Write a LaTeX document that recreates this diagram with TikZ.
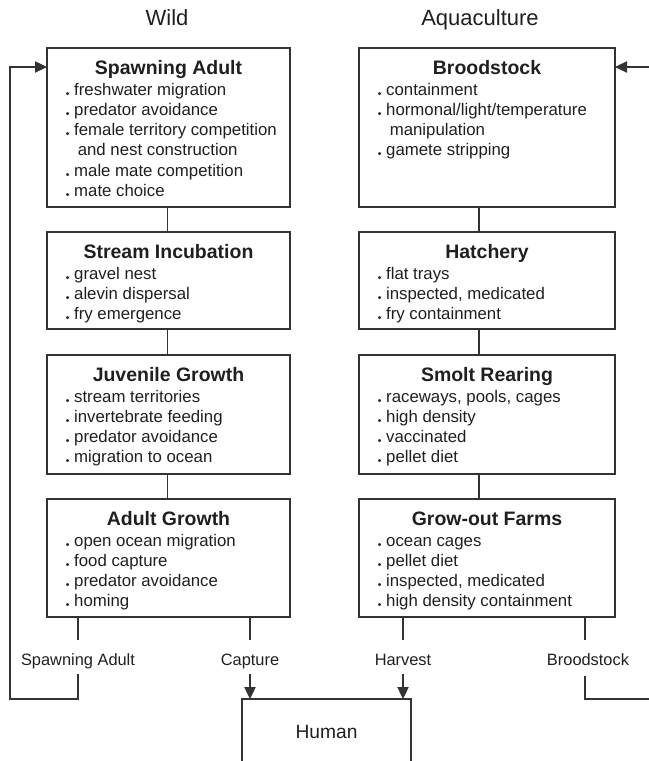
\documentclass[tikz,border=0pt]{standalone}
\usepackage{fontspec}
\setmainfont{Liberation Sans}
\usepackage{graphicx}
\usetikzlibrary{arrows.meta,calc}
\newcommand\bu{\makebox[6.3pt][l]{\raisebox{-0.12em}{\scalebox{0.62}{•}}}}
\newcommand\cont{\hspace*{9pt}}
\newcommand\fst{\rule{0pt}{10pt}}
\begin{document}
\begin{tikzpicture}[x=0.75pt,y=-0.75pt,
  box/.style={draw=black!80, line width=0.8pt, inner sep=0pt, outer sep=0pt},
  lbox/.style={box, minimum width=182.25pt},
  rbox/.style={box, minimum width=192pt},
  ttl/.style={font=\fontsize{14.6}{17}\selectfont\bfseries, text=black!88, anchor=base, inner sep=0pt},
  itm/.style={font=\fontsize{12.6}{15.15}\selectfont, text=black!88, anchor=north west, align=left, inner sep=0pt},
  lbl/.style={font=\fontsize{12.3}{14}\selectfont, text=black!88, anchor=base, inner sep=0pt},
  head/.style={font=\fontsize{16.5}{20}\selectfont, text=black!88, anchor=base, inner sep=0pt},
  conn/.style={draw=black!80, line width=0.8pt},
  arr/.style={conn, -{Triangle[length=9pt,width=8.5pt]}}]
\useasboundingbox (0,0) rectangle (649,761);
\begin{scope}
\clip (0,0) rectangle (649,761);
% column heads
\node[head] (hwild) at (167,25) {Wild};
\node[head] (haqua) at (480,25) {Aquaculture};
% left boxes
\node[lbox, minimum height=119.25pt] (sa) at (168.5,127.5) {};
\node[lbox, minimum height=72.75pt] (si) at (168.5,280.5) {};
\node[lbox, minimum height=89.25pt] (jg) at (168.5,414.5) {};
\node[lbox, minimum height=88.5pt] (ag) at (168.5,558) {};
% right boxes
\node[rbox, minimum height=119.25pt] (bs) at (487,127.5) {};
\node[rbox, minimum height=72.75pt] (ha) at (487,280.5) {};
\node[rbox, minimum height=89.25pt] (sr) at (487,414.5) {};
\node[rbox, minimum height=88.5pt] (gf) at (487,558) {};
% titles
\node[ttl] (sa-t) at ($(sa.north)+(0,26)$) {Spawning Adult};
\node[ttl] (si-t) at ($(si.north)+(0,26)$) {Stream Incubation};
\node[ttl] (jg-t) at ($(jg.north)+(0,26)$) {Juvenile Growth};
\node[ttl] (ag-t) at ($(ag.north)+(0,26)$) {Adult Growth};
\node[ttl] (bs-t) at ($(bs.north)+(0,26)$) {Broodstock};
\node[ttl] (ha-t) at ($(ha.north)+(0,26)$) {Hatchery};
\node[ttl] (sr-t) at ($(sr.north)+(0,26)$) {Smolt Rearing};
\node[ttl] (gf-t) at ($(gf.north)+(0,26)$) {Grow-out Farms};
% items
\node[itm] (sa-i) at ($(sa.north west)+(18.5,33.67)$) {\fst\bu freshwater migration\\\bu predator avoidance\\\bu female territory competition\\\cont and nest construction\\\bu male mate competition\\\bu mate choice};
\node[itm] (si-i) at ($(si.north west)+(18.5,33.67)$) {\fst\bu gravel nest\\\bu alevin dispersal\\\bu fry emergence};
\node[itm] (jg-i) at ($(jg.north west)+(18.5,33.67)$) {\fst\bu stream territories\\\bu invertebrate feeding\\\bu predator avoidance\\\bu migration to ocean};
\node[itm] (ag-i) at ($(ag.north west)+(18.5,33.67)$) {\fst\bu open ocean migration\\\bu food capture\\\bu predator avoidance\\\bu homing};
\node[itm] (bs-i) at ($(bs.north west)+(18.5,33.67)$) {\fst\bu containment\\\bu hormonal/light/temperature\\\cont manipulation\\\bu gamete stripping};
\node[itm] (ha-i) at ($(ha.north west)+(18.5,33.67)$) {\fst\bu flat trays\\\bu inspected, medicated\\\bu fry containment};
\node[itm] (sr-i) at ($(sr.north west)+(18.5,33.67)$) {\fst\bu raceways, pools, cages\\\bu high density\\\bu vaccinated\\\bu pellet diet};
\node[itm] (gf-i) at ($(gf.north west)+(18.5,33.67)$) {\fst\bu ocean cages\\\bu pellet diet\\\bu inspected, medicated\\\bu high density containment};
% vertical links
\draw[conn] ([xshift=-1pt]sa.south) -- ([xshift=-1pt]si.north);
\draw[conn] ([xshift=-1pt]si.south) -- ([xshift=-1pt]jg.north);
\draw[conn] ([xshift=-1pt]jg.south) -- ([xshift=-1pt]ag.north);
\draw[conn] ([xshift=-6pt]bs.south) -- ([xshift=-6pt]ha.north);
\draw[conn] ([xshift=-6pt]ha.south) -- ([xshift=-6pt]sr.north);
\draw[conn] ([xshift=-6pt]sr.south) -- ([xshift=-6pt]gf.north);
% human
\node[box, minimum width=126.75pt, minimum height=75pt, anchor=north] (hu) at (326.5,699) {};
\node[lbl, font=\fontsize{14.4}{17}\selectfont] (hu-t) at (326.5,738) {Human};
% bottom labels
\node[lbl] (lsa) at (78,665) {Spawning Adult};
\node[lbl] (lcap) at (250,665) {Capture};
\node[lbl] (lhar) at (403,665) {Harvest};
\node[lbl] (lbro) at (588,665) {Broodstock};
\coordinate (loopL) at (10,699);
\coordinate (loopR) at (653,699);
% wild outputs
\draw[conn] (ag.south -| lsa) -- ($(lsa.base)+(0,-25)$);
\draw[arr] ($(lsa.base)+(0,9)$) |- (loopL) |- ($(sa.north west)+(0,19)$);
\draw[conn] (ag.south -| lcap) -- ($(lcap.base)+(0,-25)$);
\draw[arr] ($(lcap.base)+(0,9)$) -- (lcap.base |- hu.north);
% aquaculture outputs
\draw[conn] (gf.south -| lhar) -- ($(lhar.base)+(0,-25)$);
\draw[arr] ($(lhar.base)+(0,9)$) -- (lhar.base |- hu.north);
\draw[conn] ($(gf.south -| lbro)+(-3,0)$) -- ($(lbro.base)+(-3,-25)$);
\draw[arr] ($(lbro.base)+(-3,11)$) |- (loopR) |- ($(bs.north east)+(0,19)$);
\end{scope}
\end{tikzpicture}
\end{document}
